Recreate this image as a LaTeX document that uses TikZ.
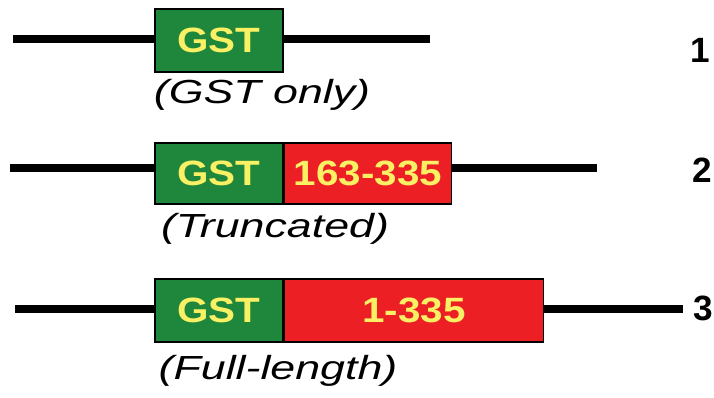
\documentclass[tikz,border=0pt]{standalone}
\usepackage{fontspec}
\setmainfont{Liberation Sans}
\newfontfamily\widefont[FakeStretch=1.15]{Liberation Sans}
\newfontfamily\captionfont[FakeStretch=1.34]{Liberation Sans}
\usetikzlibrary{positioning}
\definecolor{gstgreen}{RGB}{30,135,60}
\definecolor{fragred}{RGB}{236,32,36}
\definecolor{fragyellow}{RGB}{250,240,100}
\newcommand\vectorwidth{4pt}
\newcommand\boxheight{1.26cm}
\tikzset{
    domainbox/.style = {draw=black, line width=0.9pt, minimum height=\boxheight, inner sep=0pt,
                        text=fragyellow, font=\widefont\bfseries\fontsize{20}{24}\selectfont},
    gstbox/.style    = {domainbox, fill=gstgreen, minimum width=2.56cm},
    fragbox/.style   = {domainbox, fill=fragred},
    vector/.style    = {line width=\vectorwidth},
    construct/.style = {font=\captionfont\itshape\fontsize{19}{23}\selectfont},
    rownum/.style    = {font=\bfseries\fontsize{20}{24}\selectfont},
}

\begin{document}
\begin{tikzpicture}[x=0.02cm,y=-0.02cm]
         \useasboundingbox (0,0) rectangle (714,397);
         % --- Construct 1: GST only
         \node[gstbox] (g1) at (219,40.5) {GST};
         \coordinate (l1) at (13,39);
         \coordinate (e1) at (430,39);
         \draw[vector] (l1) -- (l1 -| g1.west);
         \draw[vector] (g1.east |- e1) -- (e1);
         \node[construct] (c1) at (262,95) {(GST only)};
         \node[rownum] (n1) at (700,50) {1};
         % --- Construct 2: truncated
         \node[gstbox, minimum height=1.22cm] (g2) at (219,173.5) {GST};
         \node[fragbox, minimum height=1.22cm, minimum width=3.34cm, right=0pt of g2] (r2) {163-335};
         \coordinate (l2) at (10,168);
         \coordinate (e2) at (597,168);
         \draw[vector] (l2) -- (l2 -| g2.west);
         \draw[vector] (r2.east |- e2) -- (e2);
         \node[construct] (c2) at (275,229) {(Truncated)};
         \node[rownum] (n2) at (702,170) {2};
         % --- Construct 3: full length
         \node[gstbox] (g3) at (219,310.5) {GST};
         \node[fragbox, minimum width=5.18cm, right=0pt of g3] (r3) {1-335};
         \coordinate (l3) at (15,309);
         \coordinate (e3) at (683,309);
         \draw[vector] (l3) -- (l3 -| g3.west);
         \draw[vector] (r3.east |- e3) -- (e3);
         \node[construct] (c3) at (278,371) {(Full-length)};
         \node[rownum] (n3) at (703,308) {3};
\end{tikzpicture}
\end{document}
